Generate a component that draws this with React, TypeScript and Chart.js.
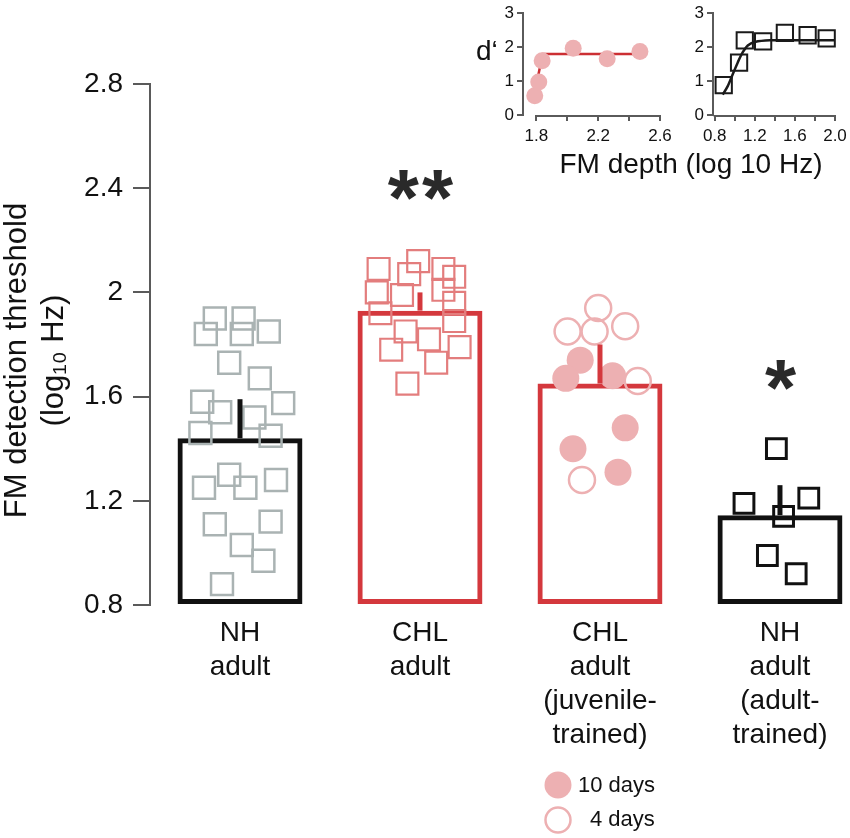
import { useEffect, useRef } from 'react';
import { Chart, registerables } from 'chart.js';

Chart.register(...registerables);
Chart.defaults.font.family = '"Liberation Sans", Arial, Helvetica, sans-serif';

// ---- main panel ----
const groupPos = [0, 1, 2, 3];
const groupLabels = [
  ['NH', 'adult'],
  ['CHL', 'adult'],
  ['CHL', 'adult', '(juvenile-', 'trained)'],
  ['NH', 'adult', '(adult-', 'trained)'],
];
const meanThreshold = [1.44, 1.93, 1.65, 1.145];
const upperError = [1.59, 2.0, 1.8, 1.26];
const yTickValues = [0.8, 1.2, 1.6, 2, 2.4, 2.8];
const yTitle = ['FM detection threshold', '(log₁₀ Hz)'];

// individual animals, x = jitter around the group position
const nhAdultX = [-0.14, 0.02, -0.19, 0.01, 0.16, -0.06, 0.11, -0.21, 0.24, -0.11, 0.08, -0.22, 0.17, -0.06, -0.2, 0.03, 0.2, -0.14, 0.17, 0.01, 0.13, -0.1];
const nhAdultY = [1.9, 1.9, 1.84, 1.84, 1.85, 1.73, 1.67, 1.58, 1.575, 1.54, 1.52, 1.46, 1.45, 1.3, 1.25, 1.25, 1.28, 1.11, 1.12, 1.03, 0.97, 0.88];
const chlAdultX = [-0.23, -0.01, -0.06, 0.13, 0.19, -0.24, -0.1, 0.13, 0.19, -0.22, 0.19, -0.08, 0.05, -0.16, 0.22, 0.09, -0.07];
const chlAdultY = [2.09, 2.12, 2.07, 2.09, 2.06, 2.0, 1.99, 2.01, 1.96, 1.92, 1.89, 1.85, 1.82, 1.78, 1.79, 1.73, 1.65];
const juv10X = [-0.11, -0.19, 0.07, 0.14, -0.15, 0.1];
const juv10Y = [1.74, 1.67, 1.68, 1.48, 1.4, 1.31];
const juv4X = [-0.01, -0.18, -0.03, 0.14, 0.21, -0.1];
const juv4Y = [1.94, 1.85, 1.85, 1.87, 1.66, 1.28];
const adultTrainedX = [-0.02, -0.2, 0.16, 0.02, -0.07, 0.09];
const adultTrainedY = [1.4, 1.19, 1.21, 1.14, 0.99, 0.92];

const sigGroups = [1, 3];
const sigText = ['**', '*'];
const sigLevel = [2.43, 1.7];
const legendLabels = ['10 days', '4 days'];

// ---- insets: d' vs FM depth ----
const leftDepth = [1.789, 1.815, 1.837, 2.038, 2.258, 2.47];
const leftDprime = [0.57, 0.97, 1.6, 1.97, 1.66, 1.87];
const leftFitDepth = [1.79, 1.84, 2.47];
const leftFitDprime = [0.68, 1.8, 1.8];
const leftTicks = [1.8, 2.0, 2.2, 2.4, 2.6];
const leftTickLabels = ['1.8', '', '2.2', '', '2.6'];

const rightDepth = [0.89, 1.043, 1.1, 1.283, 1.5, 1.727, 1.917];
const rightDprime = [0.88, 1.54, 2.2, 2.17, 2.42, 2.35, 2.26];
const rightFitDepth = [0.88, 0.93, 0.98, 1.03, 1.08, 1.13, 1.2, 1.35, 1.6, 2.0];
const rightFitDprime = [0.6, 0.85, 1.2, 1.55, 1.85, 2.05, 2.15, 2.2, 2.2, 2.2];
const rightTicks = [0.8, 1.0, 1.2, 1.4, 1.6, 1.8, 2.0];
const rightTickLabels = ['0.8', '', '1.2', '', '1.6', '', '2.0'];
const dprimeTicks = [0, 1, 2, 3];

const BLACK = '#111111';
const RED = '#d4383d';
const GREY_SQ = '#aab3b3';
const RED_SQ = '#e37d7d';
const PINK = '#edb0b2';
const AXIS = '#5a5a5a';
const FONT = '"Liberation Sans", Arial, sans-serif';

const pts = (xs: number[], ys: number[], g = 0) => ys.map((v, i) => ({ x: groupPos[g] + xs[i], y: v }));

const errorBars = {
  id: 'errorBars',
  afterDatasetsDraw(chart: any) {
    const { ctx } = chart;
    const { x, y } = chart.scales;
    ctx.save();
    ctx.lineWidth = 5;
    groupPos.forEach((g, i) => {
      const px = x.getPixelForValue(g);
      ctx.strokeStyle = i === 1 || i === 2 ? RED : BLACK;
      ctx.beginPath();
      ctx.moveTo(px, y.getPixelForValue(meanThreshold[i]));
      ctx.lineTo(px, y.getPixelForValue(upperError[i]));
      ctx.stroke();
    });
    ctx.restore();
  },
};

const annotations = {
  id: 'annotations',
  afterDraw(chart: any) {
    const { ctx, chartArea } = chart;
    const { x, y } = chart.scales;
    ctx.save();

    // y axis title (two lines, rotated)
    ctx.fillStyle = BLACK;
    ctx.font = `31px ${FONT}`;
    ctx.textAlign = 'center';
    ctx.textBaseline = 'middle';
    const midY = (chartArea.top + chartArea.bottom) / 2 + 16;
    [17, 54].forEach((tx, i) => {
      ctx.save();
      ctx.translate(tx, midY);
      ctx.rotate(-Math.PI / 2);
      ctx.fillText(yTitle[i], 0, 0);
      ctx.restore();
    });

    // significance stars
    ctx.fillStyle = '#2a2a2a';
    ctx.textBaseline = 'alphabetic';
    const starSize = 80;
    ctx.font = `bold ${starSize}px ${FONT}`;
    (ctx as any).letterSpacing = '3px';
    sigGroups.forEach((g, i) => {
      ctx.fillText(sigText[i], x.getPixelForValue(g) + 2, y.getPixelForValue(sigLevel[i]) + starSize * 0.56);
    });
    (ctx as any).letterSpacing = '0px';

    // legend for the juvenile-trained group
    const lx = x.getPixelForValue(2) - 42;
    const rows = [chart.height - 53, chart.height - 18];
    ctx.fillStyle = PINK;
    ctx.beginPath();
    ctx.arc(lx, rows[0], 13.5, 0, Math.PI * 2);
    ctx.fill();
    ctx.strokeStyle = PINK;
    ctx.lineWidth = 2.5;
    ctx.beginPath();
    ctx.arc(lx, rows[1], 12.5, 0, Math.PI * 2);
    ctx.stroke();
    ctx.fillStyle = BLACK;
    ctx.font = `22px ${FONT}`;
    ctx.textAlign = 'left';
    ctx.textBaseline = 'middle';
    ctx.fillText(legendLabels[0], lx + 20, rows[0] + 1);
    ctx.fillText(legendLabels[1], lx + 32, rows[1]);

    // inset labels
    ctx.font = `28px ${FONT}`;
    ctx.fillText('d‘', 476, 52);
    ctx.textAlign = 'center';
    ctx.fillText('FM depth (log 10 Hz)', 691, 165);
    ctx.restore();
  },
};

const spine = {
  id: 'spine',
  afterDraw(chart: any) {
    const { ctx, chartArea } = chart;
    const x = chart.scales.x;
    const t = x.ticks;
    ctx.save();
    ctx.strokeStyle = AXIS;
    ctx.lineWidth = 2;
    ctx.beginPath();
    ctx.moveTo(x.getPixelForValue(t[0].value) - 1, chartArea.bottom + 1);
    ctx.lineTo(x.getPixelForValue(t[t.length - 1].value) + 1, chartArea.bottom + 1);
    ctx.stroke();
    ctx.restore();
  },
};

function mainConfig(): any {
  const sq = { pointStyle: 'rect', pointRadius: 15.5, pointBackgroundColor: 'rgba(0,0,0,0)', clip: false, order: 1 };
  return {
    type: 'bar',
    data: {
      datasets: [
        {
          type: 'bar',
          data: groupPos.map((g, i) => ({ x: g, y: meanThreshold[i] })),
          base: 0.8,
          backgroundColor: 'rgba(0,0,0,0)',
          borderColor: [BLACK, RED, RED, BLACK],
          borderWidth: 5,
          borderSkipped: false,
          categoryPercentage: 1,
          barPercentage: 0.694,
          order: 5,
        },
        { type: 'scatter', data: pts(nhAdultX, nhAdultY, 0), ...sq, pointBorderColor: GREY_SQ, pointBorderWidth: 2.5 },
        { type: 'scatter', data: pts(chlAdultX, chlAdultY, 1), ...sq, pointBorderColor: RED_SQ, pointBorderWidth: 2.2 },
        { type: 'scatter', data: pts(juv10X, juv10Y, 2), pointStyle: 'circle', pointRadius: 13.5, pointBackgroundColor: PINK, pointBorderColor: PINK, pointBorderWidth: 0, clip: false, order: 1 },
        { type: 'scatter', data: pts(juv4X, juv4Y, 2), pointStyle: 'circle', pointRadius: 13, pointBackgroundColor: 'rgba(0,0,0,0)', pointBorderColor: PINK, pointBorderWidth: 2.5, clip: false, order: 1 },
        { type: 'scatter', data: pts(adultTrainedX, adultTrainedY, 3), ...sq, pointRadius: 14, pointBorderColor: BLACK, pointBorderWidth: 3 },
      ],
    },
    options: {
      animation: false,
      responsive: false,
      events: [],
      layout: { autoPadding: false, padding: { top: 84, left: 0, right: 0, bottom: 0 } },
      plugins: { legend: { display: false }, tooltip: { enabled: false } },
      scales: {
        x: {
          type: 'linear',
          min: -0.5,
          max: 3.389,
          offset: false,
          afterBuildTicks: (s: any) => { s.ticks = groupPos.map((v) => ({ value: v })); },
          afterFit: (s: any) => { s.height = 233; s.paddingLeft = 0; s.paddingRight = 0; },
          grid: { display: false, drawTicks: false },
          border: { display: false },
          ticks: {
            autoSkip: false,
            maxRotation: 0,
            padding: 11,
            color: BLACK,
            font: { size: 28, lineHeight: 1.215 },
            callback: (v: number) => groupLabels[groupPos.indexOf(v)] ?? '',
          },
        },
        y: {
          min: 0.8,
          max: 2.8,
          afterBuildTicks: (s: any) => { s.ticks = yTickValues.map((v) => ({ value: v })); },
          afterFit: (s: any) => { s.width = 150; },
          grid: { drawOnChartArea: false, drawTicks: true, tickLength: 17, color: AXIS, lineWidth: 2 },
          border: { display: true, color: AXIS, width: 2 },
          ticks: { padding: 10, color: BLACK, font: { size: 28 }, callback: (v: number) => String(v) },
        },
      },
    },
    plugins: [errorBars, annotations],
  };
}

function insetConfig(o: any): any {
  return {
    type: 'scatter',
    data: {
      datasets: [
        { type: 'line', data: o.fit, borderColor: o.lineColor, borderWidth: 2.5, pointRadius: 0, tension: o.tension, clip: false, order: 2 },
        { type: 'scatter', data: o.points, ...o.marker, clip: false, order: 1 },
      ],
    },
    options: {
      animation: false,
      responsive: false,
      events: [],
      layout: { autoPadding: false, padding: { top: 7, left: 0, right: o.padRight, bottom: 0 } },
      plugins: { legend: { display: false }, tooltip: { enabled: false } },
      scales: {
        x: {
          type: 'linear',
          min: o.xMin,
          max: o.xMax,
          afterBuildTicks: (s: any) => { s.ticks = o.ticks.map((v: number) => ({ value: v })); },
          afterFit: (s: any) => { s.height = 35; s.paddingLeft = 0; s.paddingRight = 0; },
          grid: { drawOnChartArea: false, drawTicks: true, tickLength: 6, color: AXIS, lineWidth: 2 },
          border: { display: false },
          ticks: { autoSkip: false, maxRotation: 0, padding: 5, color: BLACK, font: { size: 17 }, callback: (_v: number, i: number) => o.tickLabels[i] },
        },
        y: {
          min: 0,
          max: 3,
          afterBuildTicks: (s: any) => { s.ticks = dprimeTicks.map((v) => ({ value: v })); },
          afterFit: (s: any) => { s.width = o.yWidth; },
          grid: { drawOnChartArea: false, drawTicks: true, tickLength: 6, color: AXIS, lineWidth: 2 },
          border: { display: true, color: AXIS, width: 2 },
          ticks: { padding: 3, color: BLACK, font: { size: 17 } },
        },
      },
    },
    plugins: [spine],
  };
}

export default function App() {
  const mainRef = useRef<HTMLCanvasElement | null>(null);
  const leftRef = useRef<HTMLCanvasElement | null>(null);
  const rightRef = useRef<HTMLCanvasElement | null>(null);

  useEffect(() => {
    const charts: Chart[] = [];
    if (mainRef.current) charts.push(new Chart(mainRef.current, mainConfig()));
    if (leftRef.current) {
      charts.push(new Chart(leftRef.current, insetConfig({
        fit: leftFitDepth.map((d, i) => ({ x: d, y: leftFitDprime[i] })),
        points: leftDepth.map((d, i) => ({ x: d, y: leftDprime[i] })),
        lineColor: '#cc2f33',
        tension: 0,
        marker: { pointStyle: 'circle', pointRadius: 8.5, pointBackgroundColor: PINK, pointBorderWidth: 0 },
        xMin: 1.713,
        xMax: 2.6,
        ticks: leftTicks,
        tickLabels: leftTickLabels,
        yWidth: 53,
        padRight: 25,
      })));
    }
    if (rightRef.current) {
      charts.push(new Chart(rightRef.current, insetConfig({
        fit: rightFitDepth.map((d, i) => ({ x: d, y: rightFitDprime[i] })),
        points: rightDepth.map((d, i) => ({ x: d, y: rightDprime[i] })),
        lineColor: '#1a1a1a',
        tension: 0.3,
        marker: { pointStyle: 'rect', pointRadius: 11.5, pointBackgroundColor: 'rgba(0,0,0,0)', pointBorderColor: '#1a1a1a', pointBorderWidth: 2 },
        xMin: 0.783,
        xMax: 2.0,
        ticks: rightTicks,
        tickLabels: rightTickLabels,
        yWidth: 28,
        padRight: 15,
      })));
    }
    return () => charts.forEach((c) => c.destroy());
  }, []);

  return (
    <div style={{ position: 'absolute', left: 0, top: 0, width: 850, height: 838, background: '#fff' }}>
      <canvas ref={mainRef} width={850} height={838} style={{ position: 'absolute', left: 0, top: 0 }} />
      <canvas ref={leftRef} width={215} height={150} style={{ position: 'absolute', left: 470, top: 0 }} />
      <canvas ref={rightRef} width={165} height={150} style={{ position: 'absolute', left: 685, top: 0 }} />
    </div>
  );
}
